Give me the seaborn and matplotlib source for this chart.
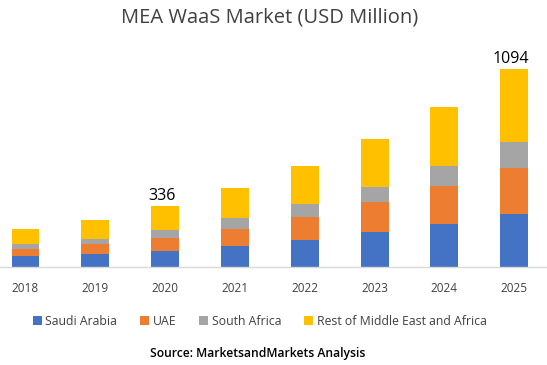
import matplotlib
matplotlib.use("Agg")
import matplotlib.pyplot as plt
import seaborn as sns
import numpy as np
import pandas as pd
from matplotlib.patches import Patch

years = ["2018", "2019", "2020", "2021", "2022", "2023", "2024", "2025"]
saudi = [60, 73, 88, 117, 150, 191, 238, 293]
uae = [40, 55, 73, 93, 123, 165, 206, 251]
south_africa = [27, 27, 42, 60, 73, 86, 115, 143]
rest = [82, 103, 133, 163, 213, 266, 326, 407]
series_names = ["Saudi Arabia", "UAE", "South Africa", "Rest of Middle East and Africa"]
colors = ["#4472C4", "#ED7D31", "#A5A5A5", "#FFC000"]
labels = {"2020": "336", "2025": "1094"}

sns.set_theme(style="white")
plt.rcParams['font.family'] = ['Open Sans', 'DejaVu Sans']

fig = plt.figure(figsize=(5.47, 3.65), dpi=100)
ax = fig.add_axes([0, 0.2685, 1, 0.62])

series = [saudi, uae, south_africa, rest]
cum = np.cumsum(np.array(series), axis=0)
df = pd.DataFrame({"year": years})
for i in range(len(series) - 1, -1, -1):
    df["v"] = cum[i]
    sns.barplot(data=df, x="year", y="v", color=colors[i], width=0.4,
                saturation=1, ax=ax, linewidth=0)

totals = cum[-1]
for i, y in enumerate(years):
    if y in labels:
        ax.text(i - 0.05, totals[i] + 10, labels[y], ha="center", va="bottom",
                fontsize=11.5, color="black")

ax.set_xlim(-0.365, 7.47)
ax.set_ylim(0, 1248)
ax.set_xlabel("")
ax.set_ylabel("")
ax.set_yticks([])
for s in ["top", "right", "left"]:
    ax.spines[s].set_visible(False)
ax.spines["bottom"].set_color("#D9D9D9")
ax.spines["bottom"].set_linewidth(1)
ax.tick_params(axis="x", length=0, pad=11, labelsize=8.5, labelcolor="#404040")

fig.text(0.493, 0.952, "MEA WaaS Market (USD Million)", ha="center", va="center",
         fontsize=14.5, color="#404040")

handles = [Patch(facecolor=c, edgecolor="none") for c in colors]
fig.legend(handles, series_names, loc="center", bbox_to_anchor=(0.475, 0.12),
           ncol=4, frameon=False, fontsize=8.8, handlelength=0.7, handleheight=0.7,
           handletextpad=0.3, columnspacing=1.9, labelcolor="#404040")

fig.text(0.471, 0.032, "Source: MarketsandMarkets Analysis", ha="center", va="center",
         fontsize=8.7, color="black", fontweight="semibold")

fig.savefig("out.png", dpi=100)
